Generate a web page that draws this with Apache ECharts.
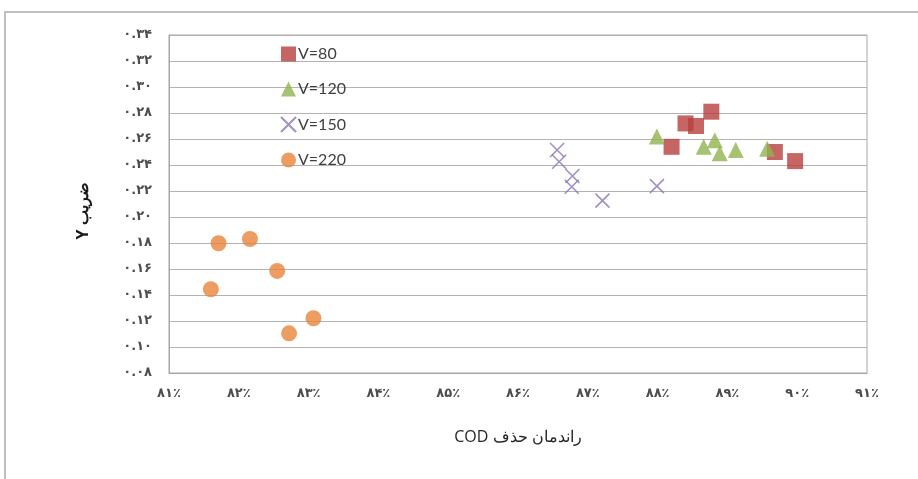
<!DOCTYPE html>
<html><head><meta charset="utf-8">
<script src="https://cdn.jsdelivr.net/npm/echarts@6/dist/echarts.min.js"></script>
<style>html,body{margin:0;padding:0;background:#fff}#c{width:918px;height:479px}</style>
</head><body><div id="c"></div>
<script>
const xTickLabels = ['۸۱٪','۸۲٪','۸۳٪','۸۴٪','۸۵٪','۸۶٪','۸۷٪','۸۸٪','۸۹٪','۹۰٪','۹۱٪'];
const yTickLabels = ['۰.۰۸','۰.۱۰','۰.۱۲','۰.۱۴','۰.۱۶','۰.۱۸','۰.۲۰','۰.۲۲','۰.۲۴','۰.۲۶','۰.۲۸','۰.۳۰','۰.۳۲','۰.۳۴'];
const seriesNames = ['V=80','V=120','V=150','V=220'];
const v80  = [[88.77,0.281],[88.40,0.272],[88.55,0.270],[88.20,0.254],[89.68,0.250],[89.97,0.243]];
const v120 = [[87.99,0.262],[88.66,0.254],[88.82,0.259],[88.89,0.249],[89.12,0.2515],[89.57,0.2525]];
const v150 = [[86.56,0.2515],[86.59,0.2425],[86.78,0.2315],[86.77,0.2233],[87.21,0.2126],[87.99,0.2238]];
const v220 = [[81.71,0.1798],[82.16,0.1831],[82.55,0.1585],[81.60,0.1444],[83.07,0.1221],[82.72,0.1105]];
const xTitle = 'راندمان حذف COD';
const yTitle = 'ضریب Y';

const RLE = '\u202B', PDF = '\u202C';
const chart = echarts.init(document.getElementById('c'), null, {renderer:'canvas'});
const axisLabelStyle = {color:'#4D4D4D', fontSize:13, fontWeight:'bold', fontFamily:'DejaVu Sans'};
chart.setOption({
  animation:false,
  backgroundColor:'#fff',
  graphic:[{type:'rect', shape:{x:5,y:12,width:940,height:500}, style:{fill:'none', stroke:'#BFBFBF', lineWidth:2}, silent:true, z:-1}],
  grid:{left:169, right:51, top:35, bottom:106, show:true, borderColor:'#A6A6A6', borderWidth:1, backgroundColor:'transparent'},
  legend:{
    orient:'vertical', left:275, top:41, itemWidth:15, itemHeight:15, itemGap:19,
    textStyle:{color:'#404040', fontSize:16, fontFamily:'Lato', padding:[0,0,0,-3]},
    data:seriesNames
  },
  xAxis:{
    type:'value', min:81, max:91, interval:1,
    name: RLE + xTitle + PDF, nameLocation:'middle', nameGap:56,
    nameTextStyle:{color:'#262626', fontSize:16, fontFamily:'Open Sans'},
    axisLine:{show:true, lineStyle:{color:'#A6A6A6', width:1}},
    axisTick:{show:false},
    splitLine:{show:false},
    axisLabel:Object.assign({margin:14, formatter:(v)=>xTickLabels[Math.round(v-81)]}, axisLabelStyle)
  },
  yAxis:{
    type:'value', min:0.08, max:0.34, interval:0.02,
    name: RLE + yTitle + PDF, nameLocation:'middle', nameGap:78, nameRotate:90,
    nameTextStyle:{color:'#1A1A1A', fontSize:16, fontWeight:'bold', fontFamily:'Open Sans', padding:[0,0,0,-14]},
    axisLine:{show:true, lineStyle:{color:'#A6A6A6', width:1}},
    axisTick:{show:false},
    splitLine:{show:true, lineStyle:{color:'#B3B3B3', width:1}},
    axisLabel:Object.assign({margin:17, formatter:(v)=>yTickLabels[Math.round((v-0.08)/0.02)]}, axisLabelStyle)
  },
  series:[
    {name:seriesNames[0], type:'scatter', data:v80, symbol:'rect', symbolSize:16, itemStyle:{color:'#B8403D'}},
    {name:seriesNames[1], type:'scatter', data:v120, symbol:'triangle', symbolSize:16, itemStyle:{color:'#8FB44E'}},
    {name:seriesNames[2], type:'scatter', data:v150, symbol:'path://M0,0L10,10M10,0L0,10', symbolSize:14,
      itemStyle:{color:'rgba(0,0,0,0)', borderColor:'#8A74B4', borderWidth:1.6}},
    {name:seriesNames[3], type:'scatter', data:v220, symbol:'circle', symbolSize:16, itemStyle:{color:'#E8853A'}}
  ]
});
</script></body></html>
